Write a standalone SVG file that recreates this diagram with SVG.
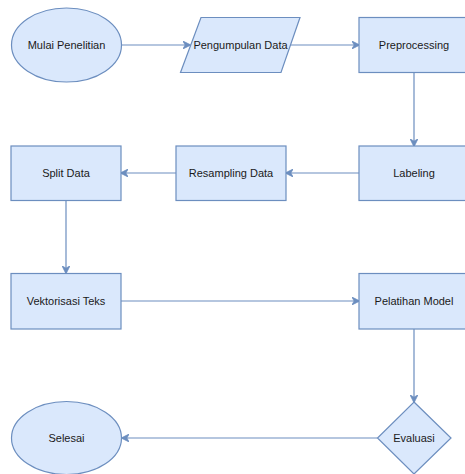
<svg xmlns="http://www.w3.org/2000/svg" width="465" height="474" viewBox="0 0 465 474">
<style>
.n{fill:#dae8fc;stroke:#6c8ebf;stroke-width:1.2}
.e{fill:none;stroke:#6c8ebf;stroke-width:1.2}
text{font-family:"Liberation Sans",Arial,sans-serif;font-size:11px;fill:#1a1a1a;text-anchor:middle;dominant-baseline:central}
</style>
<defs>
<marker id="a" viewBox="0 0 10 10" refX="9" refY="5" markerWidth="8" markerHeight="8" markerUnits="userSpaceOnUse" orient="auto">
<path d="M0,0 L10,5 L0,10 L3,5 Z" fill="#6c8ebf" stroke="#6c8ebf"/>
</marker>
</defs>
<rect width="465" height="474" fill="#ffffff"/>
<g id="edges">
<path class="e" d="M122,45 H190" marker-end="url(#a)"/>
<path class="e" d="M291,45 H359" marker-end="url(#a)"/>
<path class="e" d="M414,72.5 V146" marker-end="url(#a)"/>
<path class="e" d="M359,173 H286" marker-end="url(#a)"/>
<path class="e" d="M176,173 H121" marker-end="url(#a)"/>
<path class="e" d="M66,200.5 V273" marker-end="url(#a)"/>
<path class="e" d="M121,301 H359" marker-end="url(#a)"/>
<path class="e" d="M414,329 V402" marker-end="url(#a)"/>
<path class="e" d="M377.5,438 H122" marker-end="url(#a)"/>
</g>
<g id="mulai"><ellipse class="n" cx="66.5" cy="45" rx="55" ry="37"/><text x="66.5" y="45">Mulai Penelitian</text></g>
<g id="pengumpulan"><polygon class="n" points="201,17.5 300,17.5 281,72.5 180.5,72.5"/><text x="240.5" y="45">Pengumpulan Data</text></g>
<g id="preprocessing"><rect class="n" x="359" y="17.5" width="110" height="55"/><text x="414" y="45">Preprocessing</text></g>
<g id="labeling"><rect class="n" x="359" y="146" width="110" height="54.5"/><text x="414" y="173">Labeling</text></g>
<g id="resampling"><rect class="n" x="176" y="146" width="110" height="54.5"/><text x="231" y="173">Resampling Data</text></g>
<g id="split"><rect class="n" x="11" y="146" width="110" height="54.5"/><text x="66" y="173">Split Data</text></g>
<g id="vektorisasi"><rect class="n" x="11" y="273.5" width="110" height="55.5"/><text x="66" y="301">Vektorisasi Teks</text></g>
<g id="pelatihan"><rect class="n" x="359" y="273.5" width="110" height="55.5"/><text x="414" y="301">Pelatihan Model</text></g>
<g id="evaluasi"><polygon class="n" points="414,402 451,438 414,474 377.5,438"/><text x="414" y="438">Evaluasi</text></g>
<g id="selesai"><ellipse class="n" cx="66.5" cy="438" rx="55" ry="36.5"/><text x="66.5" y="438">Selesai</text></g>
</svg>
